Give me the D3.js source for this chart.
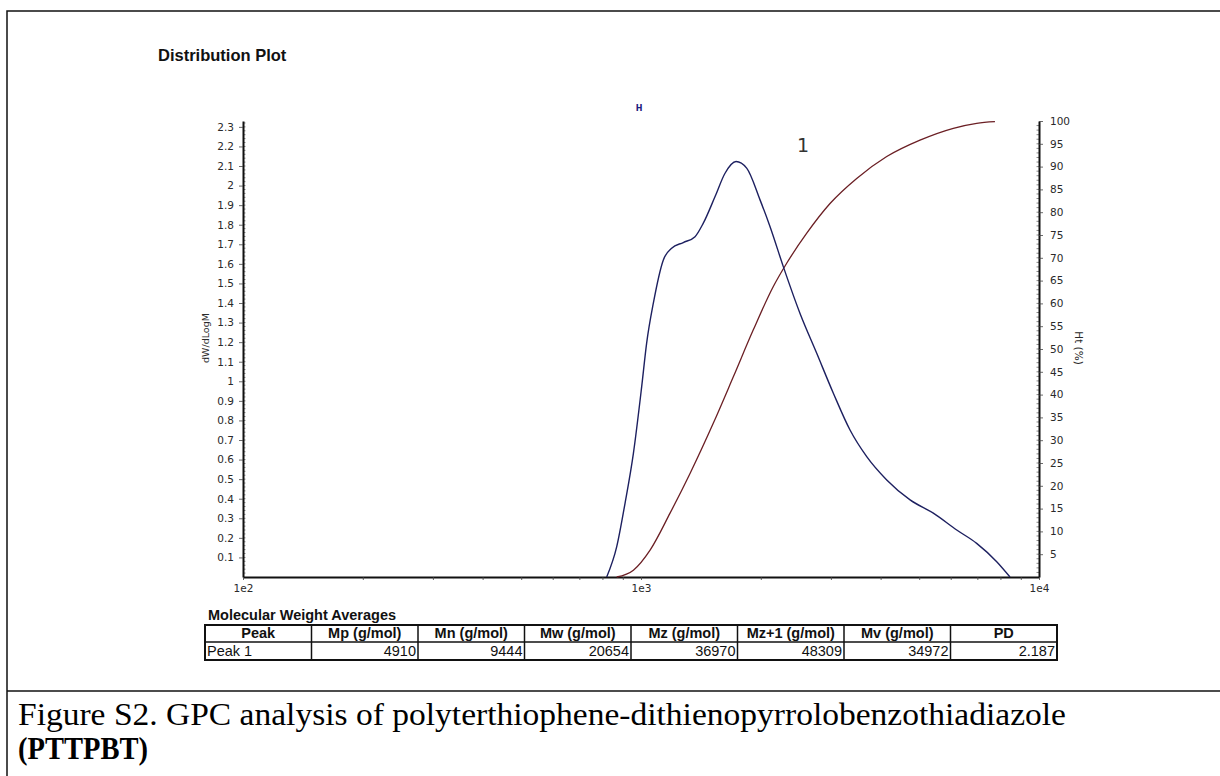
<!DOCTYPE html>
<html>
<head>
<meta charset="utf-8">
<script src="https://cdn.jsdelivr.net/npm/d3@7"></script>
<style>
  html, body { margin: 0; padding: 0; background: #fff; }
  svg { display: block; }
</style>
</head>
<body>
<svg id="fig" width="1220" height="776"></svg>
<script>
// Differential distribution dW/dLogM vs molar mass (g/mol)
const distMass = [820, 869, 912, 957, 1004, 1033, 1074, 1138, 1194, 1277, 1367, 1434, 1535, 1626, 1733,
  1843, 1991, 2110, 2278, 2508, 2764, 3043, 3351, 3691, 4144, 4743, 5426, 6213, 6973, 7830, 8455];
const distValue = [0, 0.155, 0.378, 0.632, 0.973, 1.194, 1.399, 1.620, 1.680, 1.709, 1.739, 1.808, 1.944, 2.063, 2.123,
  2.089, 1.927, 1.790, 1.586, 1.348, 1.143, 0.939, 0.751, 0.615, 0.496, 0.394, 0.326, 0.240, 0.172, 0.078, 0.0];

// Cumulative distribution Ht (%) vs molar mass (g/mol)
const cumMass = [869, 957, 1054, 1183, 1328, 1519, 1706, 1915, 2150, 2323, 2609, 2985, 3483, 4144, 5023, 6092, 6973, 7750];
const cumValue = [0, 1.5, 5.9, 14.0, 22.7, 33.7, 43.9, 54.2, 63.7, 68.8, 75.4, 81.9, 87.4, 92.2, 95.8, 98.4, 99.5, 99.85];

// Axis ticks
const leftTicks = d3.range(1, 24).map(i => i / 10);
const rightTicks = d3.range(5, 101, 5);
const massTicks = [100, 1000, 10000];
const massTickLabels = ["1e2", "1e3", "1e4"];

// Molecular weight averages table
const tableHeaders = ["Peak", "Mp (g/mol)", "Mn (g/mol)", "Mw (g/mol)", "Mz (g/mol)", "Mz+1 (g/mol)", "Mv (g/mol)", "PD"];
const tableRow = ["Peak 1", "4910", "9444", "20654", "36970", "48309", "34972", "2.187"];

const svg = d3.select("#fig");

// Outer frame and caption separator
svg.append("rect").attr("x", 7).attr("y", 11).attr("width", 1400).attr("height", 1000)
  .attr("fill", "none").attr("stroke", "#111").attr("stroke-width", 1.5);
svg.append("line").attr("x1", 7).attr("x2", 1220).attr("y1", 691).attr("y2", 691)
  .attr("stroke", "#111").attr("stroke-width", 1.5);

svg.append("text").attr("x", 158).attr("y", 61)
  .attr("font-family", "Liberation Sans, Arial, sans-serif").attr("font-weight", "bold")
  .attr("font-size", 16.5).attr("fill", "#111").text("Distribution Plot");

// Scales
const x = d3.scaleLog().domain([100, 10000]).range([243, 1039]);
const yL = d3.scaleLinear().domain([0, 2.33]).range([577, 121]);
const yR = d3.scaleLinear().domain([0, 100]).range([577, 121]);

const tickFont = "DejaVu Sans, Verdana, sans-serif";

// Minor ticks (inward) on both vertical axes
const g = svg.append("g");
g.selectAll("line.minL").data(d3.range(1, 117).map(i => i * 0.02)).join("line")
  .attr("x1", x.range()[0]).attr("x2", x.range()[0] + 2.5)
  .attr("y1", d => yL(d)).attr("y2", d => yL(d))
  .attr("stroke", "#555").attr("stroke-width", 0.7);
g.selectAll("line.minR").data(d3.range(1, 100)).join("line")
  .attr("x1", x.range()[1]).attr("x2", x.range()[1] - 2.5)
  .attr("y1", d => yR(d)).attr("y2", d => yR(d))
  .attr("stroke", "#555").attr("stroke-width", 0.7);

// Left axis
const axL = svg.append("g").attr("transform", `translate(${x.range()[0]},0)`)
  .call(d3.axisLeft(yL).tickValues(leftTicks).tickSize(4).tickSizeOuter(0)
    .tickFormat(d => String(+d.toFixed(1))));
// Right axis
const axR = svg.append("g").attr("transform", `translate(${x.range()[1]},0)`)
  .call(d3.axisRight(yR).tickValues(rightTicks).tickSize(4).tickSizeOuter(0));
// Bottom axis: log minor ticks, decade labels
const minorMass = [];
[100, 1000].forEach(dec => d3.range(1, 10).forEach(k => minorMass.push(dec * k)));
minorMass.push(10000);
const axB = svg.append("g").attr("transform", `translate(0,${yL.range()[0]})`)
  .call(d3.axisBottom(x).tickValues(minorMass).tickSize(3).tickSizeOuter(0)
    .tickFormat(d => { const i = massTicks.indexOf(d); return i >= 0 ? massTickLabels[i] : ""; }));

[axL, axR, axB].forEach(a => {
  a.select(".domain").attr("stroke", "#111").attr("stroke-width", 2);
  a.selectAll(".tick line").attr("stroke", "#444").attr("stroke-width", 0.8);
  a.selectAll(".tick text").attr("font-family", tickFont).attr("font-size", 10.5).attr("fill", "#2a2a2a");
});
axL.selectAll(".tick text").attr("dx", "-2");
axR.selectAll(".tick text").attr("dx", "4");
axB.selectAll(".tick text").attr("dy", "0.9em");

// Axis titles
svg.append("text").attr("transform", "translate(209,338) rotate(-90)")
  .attr("text-anchor", "middle").attr("font-family", tickFont).attr("font-size", 9.5)
  .attr("fill", "#2a2a2a").text("dW/dLogM");
svg.append("text").attr("transform", "translate(1075,348) rotate(90)")
  .attr("text-anchor", "middle").attr("font-family", tickFont).attr("font-size", 10.5)
  .attr("fill", "#2a2a2a").text("Ht (%)");

// Curves
const distLine = d3.line().x(d => x(d[0])).y(d => yL(d[1])).curve(d3.curveMonotoneX);
const cumLine = d3.line().x(d => x(d[0])).y(d => yR(d[1])).curve(d3.curveMonotoneX);
svg.append("path").datum(cumMass.map((m, i) => [m, cumValue[i]]))
  .attr("d", cumLine).attr("fill", "none").attr("stroke", "#6b1f24").attr("stroke-width", 1.3);
svg.append("path").datum(distMass.map((m, i) => [m, distValue[i]]))
  .attr("d", distLine).attr("fill", "none").attr("stroke", "#1d2060").attr("stroke-width", 1.4);

// Peak annotations
svg.append("text").attr("x", 639).attr("y", 111).attr("text-anchor", "middle")
  .attr("font-family", tickFont).attr("font-weight", "bold").attr("font-size", 8)
  .attr("fill", "#1d2080").text("H");
svg.append("text").attr("x", 803).attr("y", 152).attr("text-anchor", "middle")
  .attr("font-family", tickFont).attr("font-size", 19).attr("fill", "#333").text("1");

// Table
const tblFont = "Liberation Sans, Arial, sans-serif";
svg.append("text").attr("x", 208).attr("y", 620).attr("font-family", tblFont)
  .attr("font-weight", "bold").attr("font-size", 14.5).attr("fill", "#111").text("Molecular Weight Averages");

const colX = d3.scaleLinear().domain([0, tableHeaders.length]).range([205, 1057]);
const tTop = 625, tMid = 642, tBot = 660;
const tbl = svg.append("g");
tbl.append("rect").attr("x", colX(0)).attr("y", tTop).attr("width", colX(8) - colX(0)).attr("height", tBot - tTop)
  .attr("fill", "none").attr("stroke", "#111").attr("stroke-width", 2);
tbl.append("line").attr("x1", colX(0)).attr("x2", colX(8)).attr("y1", tMid).attr("y2", tMid)
  .attr("stroke", "#111").attr("stroke-width", 1.5);
tbl.selectAll("line.col").data(d3.range(1, 8)).join("line")
  .attr("x1", d => colX(d)).attr("x2", d => colX(d)).attr("y1", tTop).attr("y2", tBot)
  .attr("stroke", "#111").attr("stroke-width", 1.5);
tbl.selectAll("text.h").data(tableHeaders).join("text")
  .attr("x", (d, i) => (colX(i) + colX(i + 1)) / 2).attr("y", 638).attr("text-anchor", "middle")
  .attr("font-family", tblFont).attr("font-weight", "bold").attr("font-size", 14.5).attr("fill", "#111")
  .text(d => d);
tbl.selectAll("text.r").data(tableRow).join("text")
  .attr("x", (d, i) => i === 0 ? colX(0) + 2 : colX(i + 1) - 2).attr("y", 656)
  .attr("text-anchor", (d, i) => i === 0 ? "start" : "end")
  .attr("font-family", tblFont).attr("font-size", 14.5).attr("fill", "#111")
  .text(d => d);

// Caption
const capFont = "Liberation Serif, Times New Roman, serif";
svg.append("text").attr("x", 18).attr("y", 725).attr("font-family", capFont).attr("font-size", 30.5)
  .attr("textLength", 1048).attr("lengthAdjust", "spacingAndGlyphs")
  .attr("fill", "#000").text("Figure S2. GPC analysis of polyterthiophene-dithienopyrrolobenzothiadiazole");
svg.append("text").attr("x", 18).attr("y", 759).attr("font-family", capFont).attr("font-size", 30.5)
  .attr("textLength", 130).attr("lengthAdjust", "spacingAndGlyphs")
  .attr("font-weight", "bold").attr("fill", "#000").text("(PTTPBT)");
</script>
</body>
</html>
